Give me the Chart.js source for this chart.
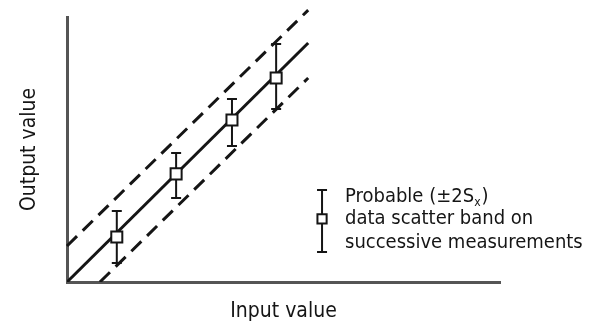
<!DOCTYPE html>
<html>
<head>
<meta charset="utf-8">
<script src="https://cdn.jsdelivr.net/npm/chart.js@4/dist/chart.umd.min.js"></script>
<style>
  html, body { margin: 0; padding: 0; background: #fff; }
</style>
</head>
<body>
<canvas id="chart" width="591" height="326"></canvas>
<script>
const inputValues  = [1.15, 2.52, 3.81, 4.83];
const outputValues = [1.70, 4.08, 6.11, 7.70];
const bandHigh     = [2.68, 4.87, 6.91, 8.98];
const bandLow      = [0.72, 3.17, 5.13, 6.53];

// ideal line and the +/- 2S band limits
const idealX = [0, 5.57];
const idealY = [0, 9.02];
const upperX = [0, 5.57];
const upperY = [1.36, 10.26];
const lowerX = [0.76, 5.57];
const lowerY = [0, 7.70];

// key symbol
const keyX = [5.89];
const keyY = [2.38];
const keyHigh = [3.47];
const keyLow = [1.13];
const keyLines = ["Probable (\u00b12S", "data scatter band on", "successive measurements"];

const ink = "#151515";
const fontFamily = "'DejaVu Sans Condensed', 'Liberation Sans', sans-serif";

const toPoints = (xs, ys) => xs.map((x, i) => ({ x: x, y: ys[i] }));

const errorBars = {
    id: "errorBars",
    beforeDatasetDraw(chart, args) {
        const ds = chart.data.datasets[args.index];
        if (!ds.high) return;
        const xs = chart.scales.x, ys = chart.scales.y;
        const ctx = chart.ctx;
        ctx.save();
        ctx.strokeStyle = ink;
        ctx.lineWidth = 2;
        ds.data.forEach((p, i) => {
            const px = xs.getPixelForValue(p.x);
            const top = ys.getPixelForValue(ds.high[i]);
            const bot = ys.getPixelForValue(ds.low[i]);
            ctx.beginPath();
            ctx.moveTo(px, top); ctx.lineTo(px, bot);
            ctx.moveTo(px - 5, top); ctx.lineTo(px + 5, top);
            ctx.moveTo(px - 5, bot); ctx.lineTo(px + 5, bot);
            ctx.stroke();
        });
        ctx.restore();
    }
};

const keyText = {
    id: "keyText",
    afterDraw(chart) {
        const ctx = chart.ctx;
        const px = chart.scales.x.getPixelForValue(keyX[0]);
        const py = chart.scales.y.getPixelForValue(keyY[0]);
        const left = px + 23;
        const base = [py - 17, py + 5, py + 29];
        ctx.save();
        ctx.fillStyle = ink;
        ctx.textBaseline = "alphabetic";
        ctx.font = "20px " + fontFamily;
        ctx.fillText(keyLines[0], left, base[0]);
        let w = ctx.measureText(keyLines[0]).width;
        ctx.font = "12px " + fontFamily;
        ctx.fillText("x", left + w, base[0] + 4);
        w += ctx.measureText("x").width + 1;
        ctx.font = "20px " + fontFamily;
        ctx.fillText(")", left + w, base[0]);
        ctx.fillText(keyLines[1], left, base[1]);
        ctx.fillText(keyLines[2], left, base[2]);
        ctx.restore();
    }
};

new Chart(document.getElementById("chart"), {
    type: "scatter",
    data: {
        datasets: [
            {
                data: toPoints(inputValues, outputValues),
                high: bandHigh,
                low: bandLow,
                pointStyle: "rect",
                pointRadius: 7.8,
                borderWidth: 2,
                borderColor: ink,
                backgroundColor: "#fff"
            },
            {
                data: toPoints(keyX, keyY),
                high: keyHigh,
                low: keyLow,
                pointStyle: "rect",
                pointRadius: 6.5,
                borderWidth: 2,
                borderColor: ink,
                backgroundColor: "#fff",
                clip: false
            },
            {
                data: toPoints(idealX, idealY),
                showLine: true,
                pointRadius: 0,
                borderWidth: 3,
                borderColor: ink
            },
            {
                data: toPoints(upperX, upperY),
                showLine: true,
                pointRadius: 0,
                borderWidth: 3,
                borderDash: [14, 8],
                borderColor: ink,
                clip: false
            },
            {
                data: toPoints(lowerX, lowerY),
                showLine: true,
                pointRadius: 0,
                borderWidth: 3,
                borderDash: [14, 8],
                borderColor: ink
            }
        ]
    },
    options: {
        responsive: false,
        animation: false,
        events: [],
        layout: { padding: { top: 17, right: 91, left: 0, bottom: 0 } },
        plugins: { legend: { display: false }, tooltip: { enabled: false } },
        scales: {
            x: {
                min: 0,
                max: 10,
                afterFit: s => { s.height = 44; },
                grid: { display: false, drawTicks: false },
                ticks: { display: false },
                border: { display: true, color: "#555", width: 3 },
                title: {
                    display: true,
                    text: "Input value",
                    color: ink,
                    font: { family: fontFamily, size: 21 },
                    padding: { top: 0, bottom: 2 }
                }
            },
            y: {
                min: 0,
                max: 10,
                afterFit: s => { s.width = 67; },
                grid: { display: false, drawTicks: false },
                ticks: { display: false },
                border: { display: true, color: "#555", width: 3 },
                title: {
                    display: true,
                    text: "Output value",
                    color: ink,
                    font: { family: fontFamily, size: 21 },
                    padding: { top: 17, bottom: 0 }
                }
            }
        }
    },
    plugins: [errorBars, keyText]
});
</script>
</body>
</html>
